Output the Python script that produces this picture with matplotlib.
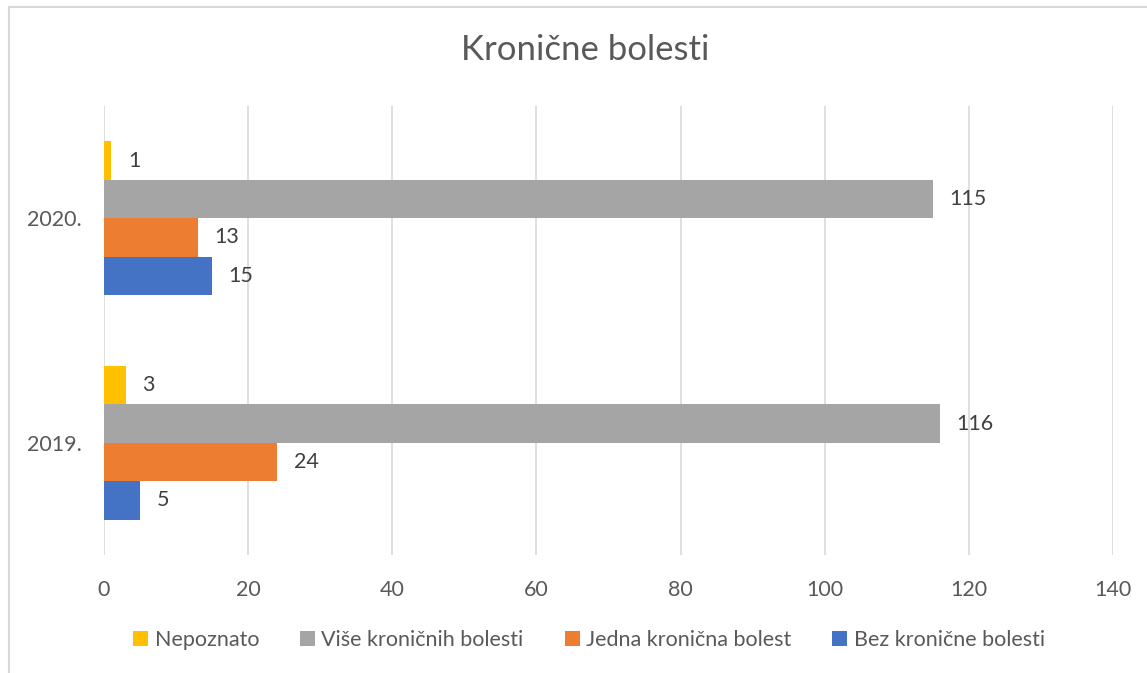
import matplotlib.pyplot as plt
import matplotlib.patches as mpatches
import numpy as np

# Podaci
godine = ["2019.", "2020."]
serije = ["Bez kronične bolesti", "Jedna kronična bolest", "Više kroničnih bolesti", "Nepoznato"]
bez_bolesti = [5, 15]
jedna_bolest = [24, 13]
vise_bolesti = [116, 115]
nepoznato = [3, 1]
boje = ["#4472C4", "#ED7D31", "#A5A5A5", "#FFC000"]

plt.rcParams["font.family"] = ["Lato", "DejaVu Sans"]
tekst = "#595959"

fig = plt.figure(figsize=(11.47, 6.73), dpi=100)
ax = fig.add_axes([104 / 1147, 1 - 555 / 673, (1113 - 104) / 1147, (555 - 106) / 673])

# okvir grafikona
fig.patches.append(mpatches.Rectangle((9 / 1147, -0.05), 1.1, 1 - 7 / 673 + 0.05,
                                      transform=fig.transFigure, fill=False,
                                      edgecolor="#D9D9D9", linewidth=1.5))

y = np.arange(len(godine))
h = 0.171
vrijednosti = [bez_bolesti, jedna_bolest, vise_bolesti, nepoznato]
for i, (naziv, vals, boja) in enumerate(zip(serije, vrijednosti, boje)):
    bars = ax.barh(y + (i - 1.5) * h, vals, height=h, color=boja, label=naziv, zorder=3)
    ax.bar_label(bars, padding=12, fontsize=15.5, color="#404040")

ax.set_xlim(0, 140)
ax.set_ylim(-0.5, 1.5)
ax.set_xticks(range(0, 141, 20))
ax.set_yticks(y)
ax.set_yticklabels(godine)
ax.tick_params(length=0, labelsize=15.5, labelcolor=tekst)
ax.tick_params(axis="x", pad=18)
ax.tick_params(axis="y", pad=16)
ax.grid(axis="x", color="#D9D9D9", linewidth=1.2, zorder=0)
for s in ax.spines.values():
    s.set_visible(False)

fig.text(585 / 1147, 1 - 50 / 673, "Kronične bolesti", ha="center", va="center",
         fontsize=25, color=tekst)

handles, labels = ax.get_legend_handles_labels()
ax.legend(handles[::-1], labels[::-1], loc="center", bbox_to_anchor=(589 / 1147, 1 - 640 / 673),
          bbox_transform=fig.transFigure, ncol=4, frameon=False, fontsize=15.5,
          labelcolor=tekst, handlelength=0.7, handleheight=0.7, handletextpad=0.3,
          columnspacing=1.9)

fig.savefig("out.png", dpi=100)
